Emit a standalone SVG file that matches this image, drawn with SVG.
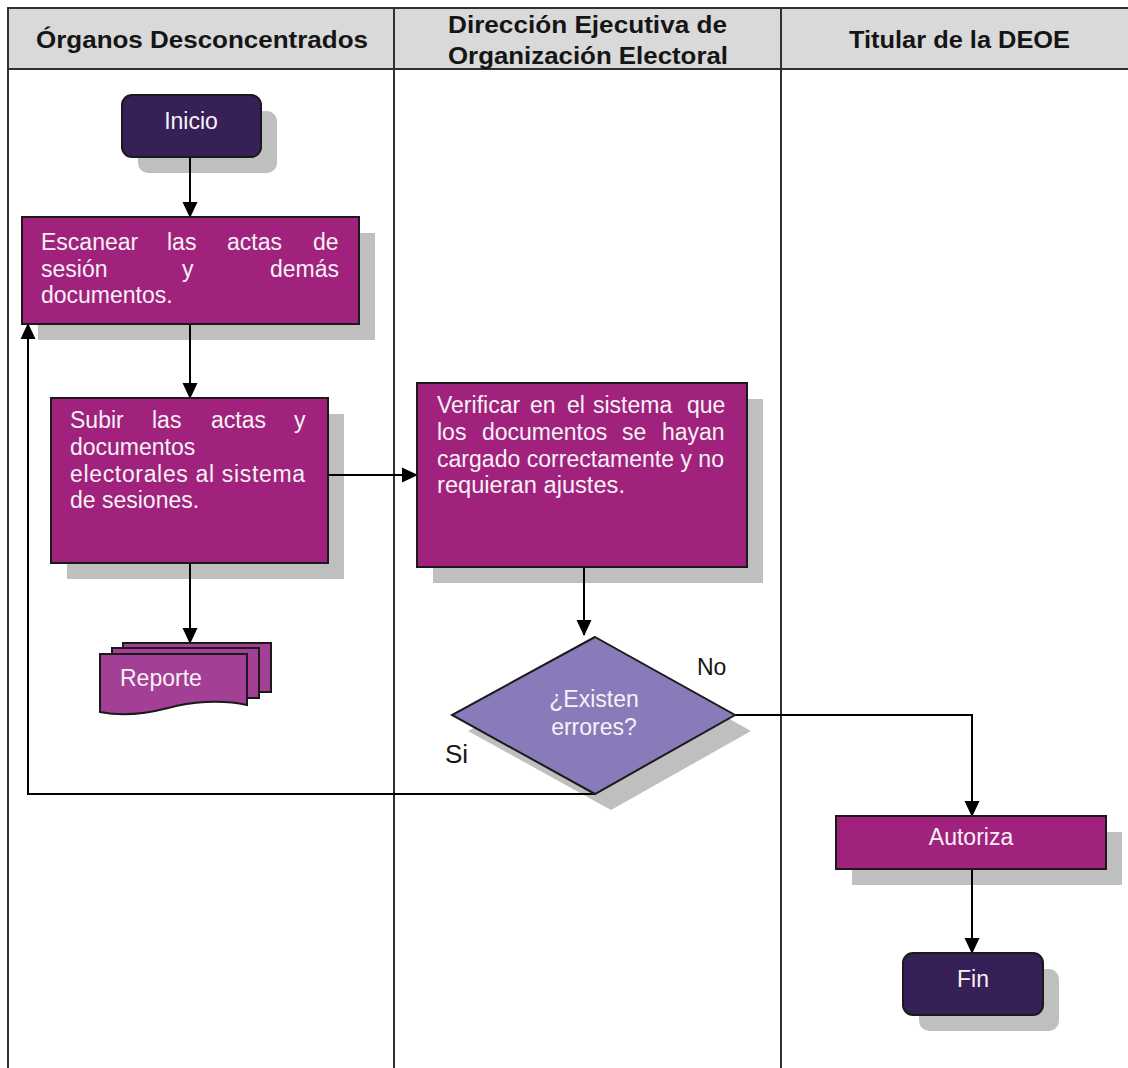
<svg xmlns="http://www.w3.org/2000/svg" width="1128" height="1068" viewBox="0 0 1128 1068">
  <style>
    .lane { fill: none; stroke: #303030; stroke-width: 2; }
    .head { fill: #d9d9d9; stroke: #303030; stroke-width: 2; }
    .htxt { font-family: "Liberation Sans", Arial, sans-serif; font-size: 23px; font-weight: bold; fill: #151515; }
    .shadow { fill: #bfbfbf; stroke: none; }
    .proc { fill: #a0227c; stroke: #1a1a1a; stroke-width: 2; }
    .term { fill: #371f57; stroke: #1a1a1a; stroke-width: 2; }
    .dec { fill: #897bb9; stroke: #1a1a1a; stroke-width: 2; }
    .doc { fill: #a33f95; stroke: #1a1a1a; stroke-width: 2; }
    .txt { font-family: "Liberation Sans", Arial, sans-serif; font-size: 23px; fill: #f7f1f7; }
    .lbl { font-family: "Liberation Sans", Arial, sans-serif; font-size: 23px; fill: #151515; }
    .conn { fill: none; stroke: #000; stroke-width: 2; }
  </style>
  <defs>
    <marker id="arrow" markerUnits="userSpaceOnUse" markerWidth="16" markerHeight="16" viewBox="0 0 16 16" refX="15" refY="8" orient="auto">
      <path d="M0,0.5 L16,8 L0,15.5 Z" fill="#000"/>
    </marker>
  </defs>

  <rect width="1128" height="1068" fill="#fff"/>

  <!-- swimlanes -->
  <g id="lanes">
    <rect class="head" x="8" y="8" width="1130" height="61"/>
    <line class="lane" x1="8" y1="8" x2="8" y2="1070"/>
    <line class="lane" x1="394" y1="8" x2="394" y2="1070"/>
    <line class="lane" x1="781" y1="8" x2="781" y2="1070"/>
    <text class="htxt" x="36" y="48" textLength="332" lengthAdjust="spacingAndGlyphs">Órganos Desconcentrados</text>
    <text class="htxt" x="448" y="33" textLength="279" lengthAdjust="spacingAndGlyphs">Dirección Ejecutiva de</text>
    <text class="htxt" x="448" y="64" textLength="280" lengthAdjust="spacingAndGlyphs">Organización Electoral</text>
    <text class="htxt" x="849" y="48" textLength="221" lengthAdjust="spacingAndGlyphs">Titular de la DEOE</text>
  </g>

  <!-- node shadows -->
  <g id="shadows">
    <rect class="shadow" x="138" y="111" width="139" height="62" rx="10"/>
    <rect class="shadow" x="38" y="233" width="337" height="107"/>
    <rect class="shadow" x="67" y="414" width="277" height="165"/>
    <rect class="shadow" x="433" y="399" width="330" height="184"/>
    <polygon class="shadow" points="611,653 751,731 611,810 468,731"/>
    <rect class="shadow" x="852" y="832" width="270" height="53"/>
    <rect class="shadow" x="919" y="969" width="140" height="62" rx="10"/>
  </g>

  <!-- connectors -->
  <g id="connectors">
    <line class="conn" x1="190" y1="158" x2="190" y2="217" marker-end="url(#arrow)"/>
    <line class="conn" x1="190" y1="324" x2="190" y2="398" marker-end="url(#arrow)"/>
    <line class="conn" x1="328" y1="475" x2="417" y2="475" marker-end="url(#arrow)"/>
    <line class="conn" x1="190" y1="563" x2="190" y2="643" marker-end="url(#arrow)"/>
    <line class="conn" x1="584" y1="567" x2="584" y2="635" marker-end="url(#arrow)"/>
    <polyline class="conn" points="595,794 28,794 28,324" marker-end="url(#arrow)"/>
    <polyline class="conn" points="735,715 972,715 972,816" marker-end="url(#arrow)"/>
    <line class="conn" x1="972" y1="869" x2="972" y2="953" marker-end="url(#arrow)"/>
  </g>

  <!-- start -->
  <g id="inicio">
    <rect class="term" x="122" y="95" width="139" height="62" rx="10"/>
    <text class="txt" x="191" y="129" text-anchor="middle">Inicio</text>
  </g>

  <!-- scan step -->
  <g id="escanear">
    <rect class="proc" x="22" y="217" width="337" height="107"/>
    <text class="txt" y="250"><tspan x="41">Escanear</tspan><tspan x="167">las</tspan><tspan x="227">actas</tspan><tspan x="313">de</tspan></text>
    <text class="txt" y="277"><tspan x="41">sesión</tspan><tspan x="182">y</tspan><tspan x="270">demás</tspan></text>
    <text class="txt" x="41" y="303">documentos.</text>
  </g>

  <!-- upload step -->
  <g id="subir">
    <rect class="proc" x="51" y="398" width="277" height="165"/>
    <text class="txt" y="428"><tspan x="70">Subir</tspan><tspan x="152">las</tspan><tspan x="211">actas</tspan><tspan x="294">y</tspan></text>
    <text class="txt" x="70" y="455">documentos</text>
    <text class="txt" x="70" y="482" textLength="235" lengthAdjust="spacing">electorales al sistema</text>
    <text class="txt" x="70" y="508">de sesiones.</text>
  </g>

  <!-- report document -->
  <g id="reporte">
    <rect class="doc" x="123" y="643" width="148" height="49"/>
    <rect class="doc" x="112" y="648" width="147" height="50"/>
    <path class="doc" d="M100,654 H247 V705 C220,699 190,702 168,708 C145,714 120,716 100,712 Z"/>
    <text class="txt" x="120" y="686">Reporte</text>
  </g>

  <!-- verification step -->
  <g id="verificar">
    <rect class="proc" x="417" y="383" width="330" height="184"/>
    <text class="txt" y="413"><tspan x="437">Verificar</tspan><tspan x="530">en</tspan><tspan x="567">el</tspan><tspan x="593">sistema</tspan><tspan x="687">que</tspan></text>
    <text class="txt" y="440"><tspan x="437">los</tspan><tspan x="482">documentos</tspan><tspan x="622">se</tspan><tspan x="662">hayan</tspan></text>
    <text class="txt" x="437" y="467" textLength="287" lengthAdjust="spacingAndGlyphs">cargado correctamente y no</text>
    <text class="txt" x="437" y="493" textLength="188" lengthAdjust="spacingAndGlyphs">requieran ajustes.</text>
  </g>

  <!-- decision -->
  <g id="decision">
    <polygon class="dec" points="595,637 735,715 595,794 452,715"/>
    <text class="txt" x="594" y="707" text-anchor="middle">¿Existen</text>
    <text class="txt" x="594" y="735" text-anchor="middle">errores?</text>
    <text class="lbl" x="697" y="675">No</text>
    <text class="lbl" x="445" y="763" style="font-size:26px">Si</text>
  </g>

  <!-- authorization -->
  <g id="autoriza">
    <rect class="proc" x="836" y="816" width="270" height="53"/>
    <text class="txt" x="971" y="845" text-anchor="middle">Autoriza</text>
  </g>

  <!-- end -->
  <g id="fin">
    <rect class="term" x="903" y="953" width="140" height="62" rx="10"/>
    <text class="txt" x="973" y="987" text-anchor="middle">Fin</text>
  </g>
</svg>
